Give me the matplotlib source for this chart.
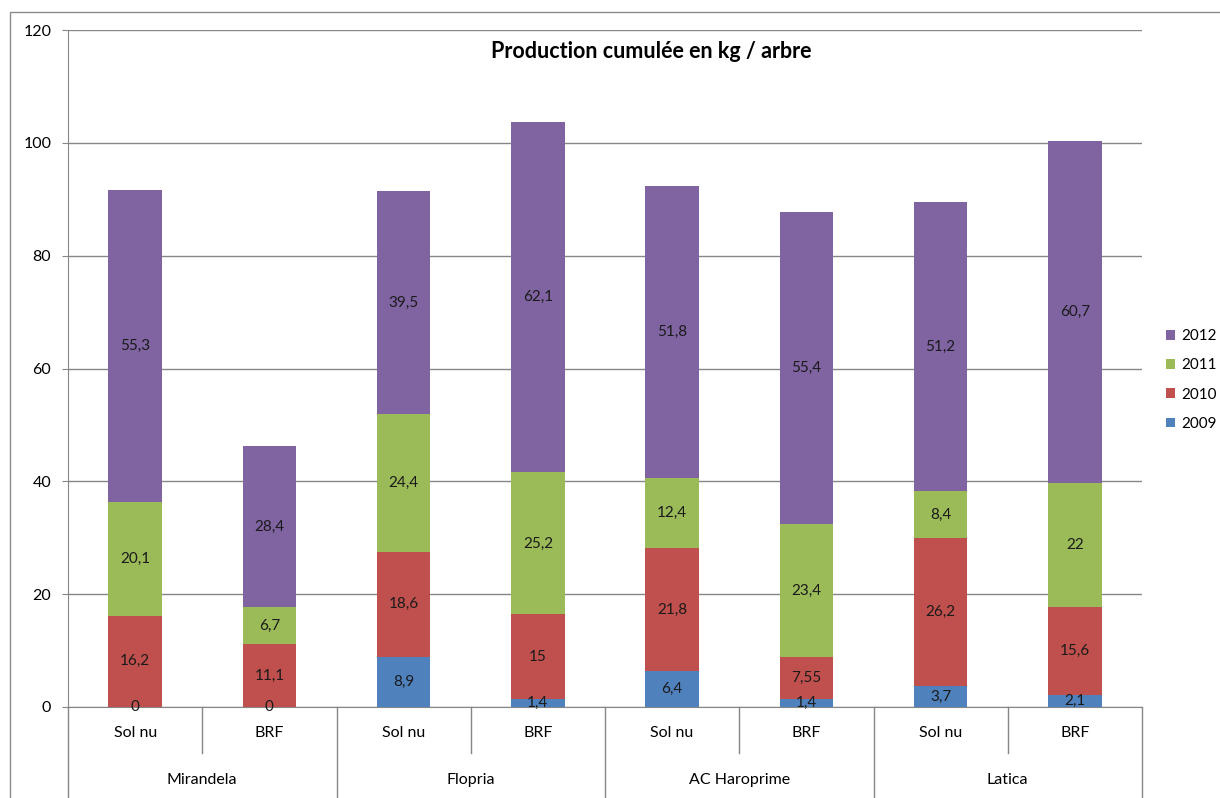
import matplotlib
matplotlib.use("Agg")
import matplotlib.pyplot as plt
from matplotlib.lines import Line2D
from matplotlib.patches import Rectangle
import numpy as np

plt.rcParams['font.family'] = ['Lato', 'DejaVu Sans']

groups = ["Mirandela", "Flopria", "AC Haroprime", "Latica"]
subcats = ["Sol nu", "BRF", "Sol nu", "BRF", "Sol nu", "BRF", "Sol nu", "BRF"]
years = ["2009", "2010", "2011", "2012"]
v2009 = [0, 0, 8.9, 1.4, 6.4, 1.4, 3.7, 2.1]
v2010 = [16.2, 11.1, 18.6, 15, 21.8, 7.55, 26.2, 15.6]
v2011 = [20.1, 6.7, 24.4, 25.2, 12.4, 23.4, 8.4, 22]
v2012 = [55.3, 28.4, 39.5, 62.1, 51.8, 55.4, 51.2, 60.7]
series = [v2009, v2010, v2011, v2012]
colors = ["#4F81BD", "#C0504D", "#9BBB59", "#8064A2"]
yticks = [0, 20, 40, 60, 80, 100, 120]

W, H = 1220, 798
fig = plt.figure(figsize=(W/100, H/100), dpi=100)
L, R, B, T = 68, 1142, 707, 30
ax = fig.add_axes([L/W, 1-B/H, (R-L)/W, (B-T)/H])

# outer chart border
fig.add_artist(Rectangle((10/W, -0.1), 1.2, 1-12/H+0.1, transform=fig.transFigure,
                         fill=False, edgecolor="#8c8c8c", lw=1.0))

x = np.arange(len(subcats))
bottom = np.zeros(len(subcats))
handles = []
for vals, col, yr in zip(series, colors, years):
    vals = np.array(vals, dtype=float)
    bars = ax.bar(x, vals, 0.4, bottom=bottom, color=col, label=yr, zorder=3)
    handles.append(bars)
    for xi, b, v in zip(x, bottom, vals):
        lbl = ("%g" % v).replace(".", ",")
        ax.text(xi, b + v/2, lbl, ha="center", va="center", fontsize=11,
                color="#1a1a1a", zorder=4)
    bottom += vals

ax.set_xlim(-0.5, len(subcats)-0.5)
ax.set_ylim(0, 120)
ax.set_yticks(yticks)
ax.set_yticklabels([str(t) for t in yticks], fontsize=11.5)
ax.tick_params(axis="y", length=4, color="#868686", pad=8)
ax.tick_params(axis="x", length=0, labelbottom=False)
ax.yaxis.grid(True, color="#868686", lw=1.0, zorder=0)
for s in ["top", "right"]:
    ax.spines[s].set_visible(False)
ax.spines["left"].set_color("#868686")
ax.spines["bottom"].set_color("#868686")

fig.text(651/W, 1-52/H, "Production cumulée en kg / arbre", fontsize=15.5,
         fontweight="bold", ha="center", va="center")

tr = ax.get_xaxis_transform()
ah = B - T
def ya(py):
    return (B - py) / ah
# category axis lines
for xs in [-0.5, 1.5, 3.5, 5.5, 7.5]:
    ax.add_line(Line2D([xs, xs], [0, ya(800)], transform=tr, color="#868686", lw=1.0, clip_on=False))
for xs in [0.5, 2.5, 4.5, 6.5]:
    ax.add_line(Line2D([xs, xs], [0, ya(753)], transform=tr, color="#868686", lw=1.0, clip_on=False))
for xi, s in zip(x, subcats):
    ax.text(xi, ya(733), s, transform=tr, ha="center", va="center", fontsize=11.5)
for gi, g in enumerate(groups):
    ax.text(2*gi + 0.5, ya(780), g, transform=tr, ha="center", va="center", fontsize=11.5)

leg = fig.legend(handles[::-1], years[::-1], loc="center left",
                 bbox_to_anchor=(1166/W, 1-380/H), frameon=False, fontsize=11,
                 handlelength=0.6, handleheight=0.6, handletextpad=0.4,
                 labelspacing=1.0, borderpad=0, borderaxespad=0)

fig.savefig("out.png", dpi=100)
